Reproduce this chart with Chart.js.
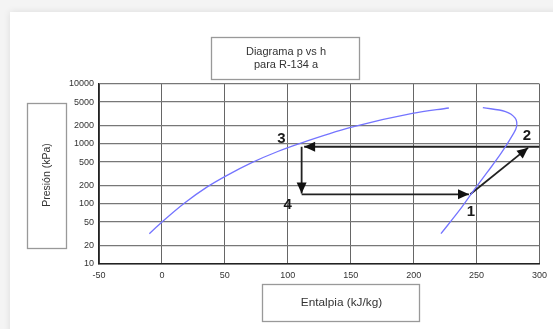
<!DOCTYPE html>
<html><head><meta charset="utf-8">
<script src="https://cdn.jsdelivr.net/npm/chart.js@4.4.1/dist/chart.umd.min.js"></script>
<style>
html,body{margin:0;padding:0;width:553px;height:329px;overflow:hidden;background:#f4f4f4;}
#card{position:absolute;left:10px;top:12px;width:560px;height:330px;background:#fff;box-shadow:0 0 7px rgba(0,0,0,0.10);}
canvas{position:absolute;left:0;top:0;}
</style></head><body>
<div id="card"></div>
<canvas id="c" width="553" height="329"></canvas>
<script>
// Saturated liquid line (h in kJ/kg, p in kPa)
const liquidH = [-10, 0, 18, 36, 51, 71, 92, 111, 150, 199, 228];
const liquidP = [32, 50, 104, 193, 295, 485, 750, 1045, 1890, 3240, 3980];
// Saturated vapour line
const vaporH = [255, 273, 280.7, 281.8, 278.6, 269.4, 258.7, 246.8, 236.3, 221.7];
const vaporP = [4036, 3470, 2690, 1941, 1409, 695, 342, 158, 78, 32];
// Cycle arrows (from -> to)
const arrowFromH = [245, 300, 111, 111];
const arrowFromP = [145, 900, 900, 145];
const arrowToH   = [291, 113, 111, 244];
const arrowToP   = [870, 900, 150, 145];
// State labels
const stateLabels = ['1', '2', '3', '4'];
const stateH = [245.5, 290, 95, 100];
const stateP = [73, 1355, 1195, 97];
// Axis ticks
const yTicks = [10, 20, 50, 100, 200, 500, 1000, 2000, 5000, 10000];
const xMin = -50, xMax = 300, xStep = 50;
const titleLines = ['Diagrama p vs h', 'para R-134 a'];
const xTitle = 'Entalpia (kJ/kg)';
const yTitle = 'Presión (kPa)';

const toPts = (hs, ps) => hs.map((h, i) => ({x: h, y: ps[i]}));
const FONT = '"Liberation Sans", Arial, sans-serif';

const datasets = [
  {data: toPts(liquidH, liquidP), showLine: true, borderColor: '#7474ff', borderWidth: 1.3, pointRadius: 0, cubicInterpolationMode: 'monotone'},
  {data: toPts(vaporH, vaporP), showLine: true, borderColor: '#7474ff', borderWidth: 1.3, pointRadius: 0, tension: 0.35}
];
arrowFromH.forEach((h, i) => {
  datasets.push({data: [{x: h, y: arrowFromP[i]}, {x: arrowToH[i], y: arrowToP[i]}], showLine: true,
    borderColor: '#222', borderWidth: 1.8, pointRadius: 0, tension: 0});
});

const arrowPlugin = {
  id: 'arrows',
  afterDatasetsDraw(chart) {
    const {ctx, scales: {x, y}} = chart;
    ctx.save();
    ctx.fillStyle = '#111';
    arrowFromH.forEach((h, i) => {
      const x0 = x.getPixelForValue(h), y0 = y.getPixelForValue(arrowFromP[i]);
      const x1 = x.getPixelForValue(arrowToH[i]), y1 = y.getPixelForValue(arrowToP[i]);
      const a = Math.atan2(y1 - y0, x1 - x0);
      const L = 11, W = 5;
      ctx.beginPath();
      ctx.moveTo(x1, y1);
      ctx.lineTo(x1 - L * Math.cos(a) + W * Math.sin(a), y1 - L * Math.sin(a) - W * Math.cos(a));
      ctx.lineTo(x1 - L * Math.cos(a) - W * Math.sin(a), y1 - L * Math.sin(a) + W * Math.cos(a));
      ctx.closePath();
      ctx.fill();
    });
    ctx.font = 'bold 15px ' + FONT;
    ctx.fillStyle = '#1a1a1a';
    ctx.textAlign = 'center';
    ctx.textBaseline = 'middle';
    stateLabels.forEach((t, i) => {
      ctx.fillText(t, x.getPixelForValue(stateH[i]), y.getPixelForValue(stateP[i]));
    });
    ctx.restore();
  }
};

const boxPlugin = {
  id: 'boxes',
  afterDraw(chart) {
    const ctx = chart.ctx;
    ctx.save();
    ctx.strokeStyle = '#999';
    ctx.lineWidth = 1.3;
    ctx.fillStyle = '#333';
    ctx.textAlign = 'center';
    ctx.textBaseline = 'middle';
    // title
    ctx.strokeRect(211.5, 37.5, 148, 42);
    ctx.font = '11px ' + FONT;
    ctx.fillText(titleLines[0], 286, 52);
    ctx.fillText(titleLines[1], 286, 65);
    // x title
    ctx.strokeRect(262.5, 284.5, 157, 37);
    ctx.font = '11.8px ' + FONT;
    ctx.fillText(xTitle, 341.5, 303);
    // y title
    ctx.strokeRect(27.5, 103.5, 39, 145);
    ctx.translate(47, 175);
    ctx.rotate(-Math.PI / 2);
    ctx.font = '10.5px ' + FONT;
    ctx.fillText(yTitle, 0, 0);
    ctx.restore();
  }
};

new Chart(document.getElementById('c'), {
  type: 'scatter',
  data: {datasets},
  plugins: [arrowPlugin, boxPlugin],
  options: {
    responsive: false,
    devicePixelRatio: 1,
    animation: false,
    layout: {padding: {left: 0, top: 84, right: 13, bottom: 0}},
    plugins: {legend: {display: false}, tooltip: {enabled: false}, title: {display: false}},
    scales: {
      x: {
        type: 'linear', min: xMin, max: xMax,
        ticks: {stepSize: xStep, font: {size: 9, family: FONT}, color: '#333', padding: 6, maxRotation: 0},
        grid: {color: '#666', lineWidth: 1, drawTicks: false},
        border: {color: '#222', width: 1.5},
        afterFit(s) { s.height = 65; }
      },
      y: {
        type: 'logarithmic', min: 10, max: 10000,
        afterBuildTicks(s) { s.ticks = yTicks.map(v => ({value: v})); },
        ticks: {font: {size: 9, family: FONT}, color: '#333', padding: 5, callback: v => String(v)},
        grid: {color: '#777', lineWidth: 1.3, drawTicks: false},
        border: {color: '#222', width: 1.5},
        afterFit(s) { s.width = 99; }
      }
    }
  }
});
</script>
</body></html>
